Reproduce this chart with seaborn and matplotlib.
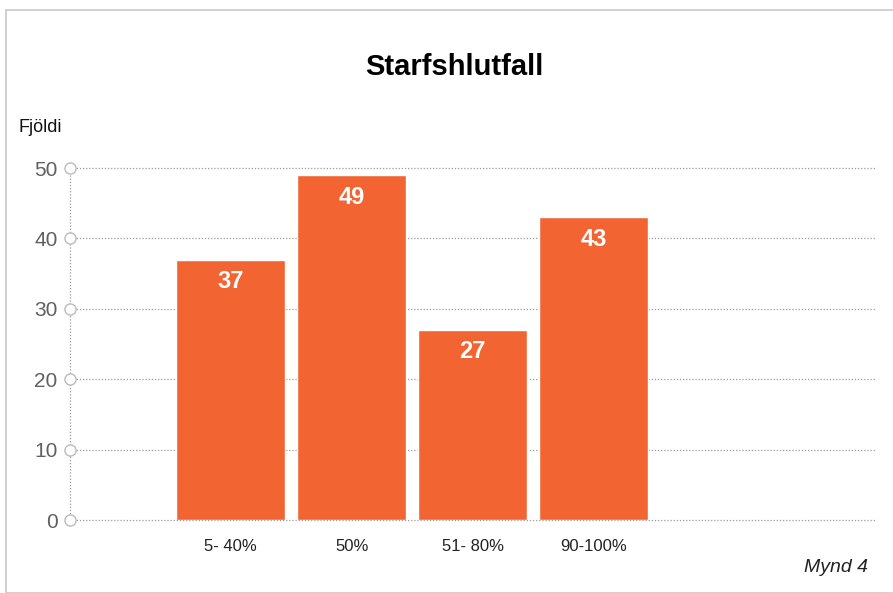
import matplotlib
matplotlib.use('Agg')
import matplotlib.pyplot as plt
import seaborn as sns
import pandas as pd
from matplotlib.patches import Rectangle

categories = ['5- 40%', '50%', '51- 80%', '90-100%']
counts = [37, 49, 27, 43]
yticks = [0, 10, 20, 30, 40, 50]

sns.set_theme(style="white")
plt.rcParams['font.family'] = ['Liberation Sans', 'DejaVu Sans']

BAR = '#F26532'
GRID = '#9a9a9a'

df = pd.DataFrame({'cat': categories, 'n': counts})

fig = plt.figure(figsize=(8.93, 5.93), dpi=100)
ax = fig.add_axes([70 / 893, 1 - 520 / 593, (876 - 70) / 893, (520 - 168) / 593])

sns.barplot(data=df, x='cat', y='n', color=BAR, saturation=1, width=0.9, ax=ax, zorder=2)

ax.set_xlim(-1.326, 5.33)
ax.set_ylim(0, 50)
for s in ax.spines.values():
    s.set_visible(False)

for y in yticks:
    ax.axhline(y, color=GRID, lw=0.9, ls=(0, (1, 1.5)), zorder=0, clip_on=False)
ax.axvline(-1.326, color=GRID, lw=0.9, ls=(0, (1, 1.5)), zorder=0, clip_on=False)
ax.plot([-1.326] * len(yticks), yticks, 'o', ms=8, mfc='white', mec='#bbbbbb', mew=1.0,
        clip_on=False, zorder=5)

ax.set_yticks(yticks)
ax.set_yticklabels([str(v) for v in yticks], color='#606060', fontsize=15)
ax.tick_params(axis='y', length=0, pad=9)
ax.tick_params(axis='x', length=0, pad=14)
ax.set_xticks(range(len(categories)))
ax.set_xticklabels(categories, fontsize=12, color='#222222')
ax.set_xlabel('')
ax.set_ylabel('')

for i, v in enumerate(counts):
    ax.text(i, v - 1.5, str(v), ha='center', va='top', color='white', fontsize=17, fontweight='bold')

fig.text(454 / 893, 1 - 67 / 593, 'Starfshlutfall', ha='center', va='center', fontsize=21,
         fontweight='bold', color='black')
fig.text(18 / 893, 1 - 128 / 593, 'Fjöldi', ha='left', va='center', fontsize=13,
         color='#111111')
fig.text(868 / 893, 1 - 568 / 593, 'Mynd 4', ha='right', va='center', fontsize=14,
         style='italic', color='#222222')

fig.patches.append(Rectangle((6 / 893, 0), 2, 1 - 10 / 593, transform=fig.transFigure,
                             fill=False, edgecolor='#c8c8c8', lw=1.2))

fig.savefig('out.png', dpi=100)
